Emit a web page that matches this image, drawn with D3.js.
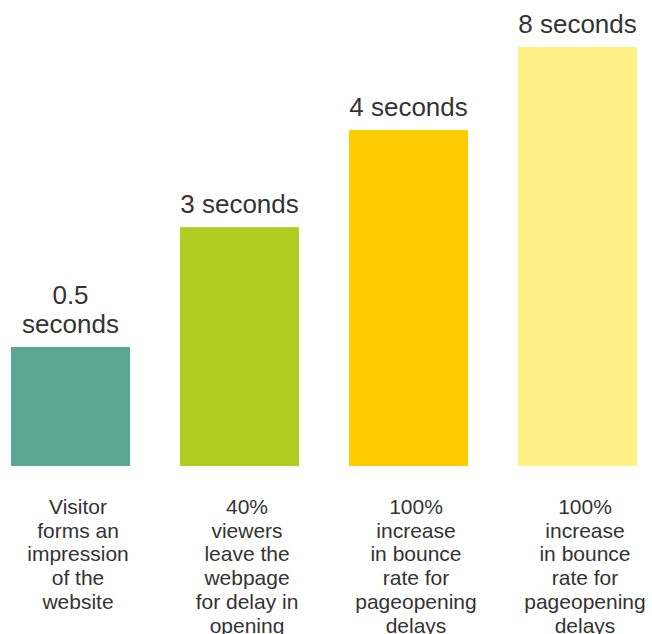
<!DOCTYPE html>
<html>
<head>
<meta charset="utf-8">
<script src="https://cdn.jsdelivr.net/npm/d3@7"></script>
<style>
  body { margin: 0; background: #fff; }
  text { font-family: "Liberation Sans", Arial, sans-serif; fill: #333; }
</style>
</head>
<body>
<svg id="chart" width="652" height="634"></svg>
<script>
// data
var keys = ["visitor", "viewers", "bounce4", "bounce8"];
var heights = [28.4, 57.0, 80.2, 100];   // relative bar heights
var valueLabels = [["0.5", "seconds"], ["3 seconds"], ["4 seconds"], ["8 seconds"]];
var captions = [
    ["Visitor", "forms an", "impression", "of the", "website"],
    ["40%", "viewers", "leave the", "webpage", "for delay in", "opening"],
    ["100%", "increase", "in bounce", "rate for", "pageopening", "delays"],
    ["100%", "increase", "in bounce", "rate for", "pageopening", "delays"]
];
var colors = ["#5ba595", "#b1cc20", "#ffcc00", "#fff186"];

var svg = d3.select("#chart");

var xScale = d3.scaleBand()
    .domain(keys)
    .range([11, 637])
    .paddingInner(50/169)
    .paddingOuter(0);

var yScale = d3.scaleLinear()
    .domain([0, 100])
    .range([466, 47]);

var data = keys.map(function(k, i){
    return {key: k, value: heights[i], label: valueLabels[i], caption: captions[i], color: colors[i]};
});

// bars
svg.selectAll(".bar")
    .data(data)
    .enter()
    .append("rect")
    .attr("class", "bar")
    .attr("x", d => xScale(d.key))
    .attr("width", xScale.bandwidth())
    .attr("y", d => yScale(d.value))
    .attr("height", d => yScale(0) - yScale(d.value))
    .attr("fill", d => d.color);

// value labels above bars
svg.selectAll(".val")
    .data(data)
    .enter()
    .append("text")
    .attr("class", "val")
    .attr("text-anchor", "middle")
    .style("font-size", "26px")
    .each(function(d){
	var cx = xScale(d.key) + xScale.bandwidth()/2;
	var base = yScale(d.value) - 14;
	var n = d.label.length;
	d3.select(this).selectAll("tspan")
	    .data(d.label)
	    .enter()
	    .append("tspan")
	    .attr("x", cx)
	    .attr("y", (l, i) => base - (n - 1 - i) * 29)
	    .text(l => l);
    });

// captions under the bars
svg.selectAll(".cap")
    .data(data)
    .enter()
    .append("text")
    .attr("class", "cap")
    .attr("text-anchor", "middle")
    .style("font-size", "21px")
    .each(function(d){
	var cx = xScale(d.key) + xScale.bandwidth()/2 + 7.5;
	d3.select(this).selectAll("tspan")
	    .data(d.caption)
	    .enter()
	    .append("tspan")
	    .attr("x", cx)
	    .attr("y", (l, i) => yScale(0) + 48 + i * 23.7)
	    .text(l => l);
    });
</script>
</body>
</html>
